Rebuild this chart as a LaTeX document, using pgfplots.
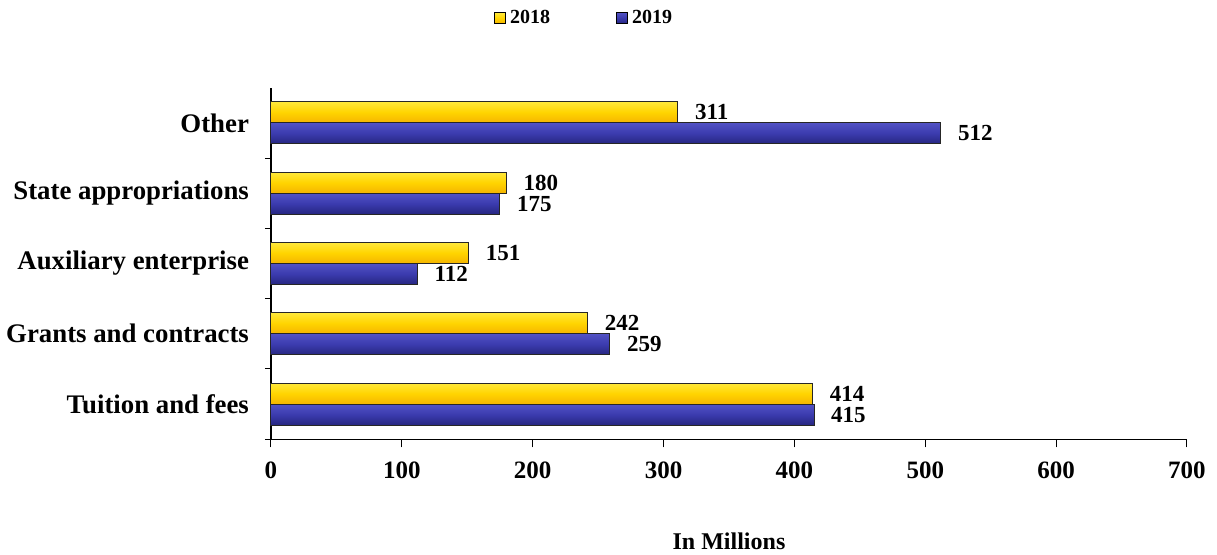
\documentclass[border=0pt]{standalone}
\usepackage{pgfplots}
\pgfplotsset{compat=1.18}
\usepackage{fontspec}
\setmainfont{Liberation Serif}
\definecolor{yTop}{HTML}{FFE83A}
\definecolor{yMid}{HTML}{FFD400}
\definecolor{yBot}{HTML}{F5B500}
\definecolor{bTop}{HTML}{5252C4}
\definecolor{bMid}{HTML}{3B3BAE}
\definecolor{bBot}{HTML}{262680}
\pgfplotsset{
  s18/.style={draw=black!85, line width=0.5pt, top color=yTop, bottom color=yBot, middle color=yMid, bar shift=5.25pt,
    legend image code/.code={\draw[draw=black, fill=yMid] (0pt,-2.75pt) rectangle (5.5pt,2.75pt);}},
  s19/.style={draw=black!85, line width=0.5pt, top color=bTop, bottom color=bBot, middle color=bMid, bar shift=-5.25pt,
    legend image code/.code={\draw[draw=black, fill=bMid] (0pt,-2.75pt) rectangle (5.5pt,2.75pt);}},
}
\begin{document}
\begin{tikzpicture}
\path[use as bounding box] (-135.5pt,-57.85pt) rectangle (473pt,219.65pt);
\begin{axis}[
  at={(0,0)}, anchor=south west, scale only axis,
  width=458pt, height=175.8pt,
  xbar, bar width=10.5pt,
  xmin=0, xmax=700, xtick={0,100,...,700},
  ymin=-0.5, ymax=4.5, ytick={0,...,4},
  yticklabels={Tuition and fees, Grants and contracts, Auxiliary enterprise, State appropriations, Other},
  minor ytick={-0.5,0.5,...,3.5},
  axis x line*=bottom, axis y line*=left,
  tick align=outside,
  major y tick style={draw=none},
  minor tick length=3pt,
  major tick length=4pt,
  every tick/.style={black, line width=0.5pt},
  axis line style={black, line width=0.6pt},
  /pgf/number format/assume math mode=true,
  xticklabel style={font=\bfseries\fontsize{12.5}{14}\selectfont, yshift=-4pt},
  yticklabel style={font=\bfseries\fontsize{13.4}{15}\selectfont, xshift=-3.5pt},
  nodes near coords,
  nodes near coords style={font=\bfseries\fontsize{11.5}{13}\selectfont, anchor=west, xshift=5pt},
  clip=false,
  xlabel={In Millions},
  every axis x label/.style={at={(rel axis cs:0.5,0)}, yshift=-51pt, anchor=center, font=\bfseries\fontsize{12}{14}\selectfont},
  legend style={at={(rel axis cs:0.343,1.198)}, anchor=center, draw=none, fill=none,
    legend columns=2, font=\bfseries\fontsize{10}{12}\selectfont,
    /tikz/every even column/.append style={column sep=31pt},
    inner sep=0pt},
]
% 2018
\addplot[s18] coordinates {(414,0)};
% 2019
\addplot[s19] coordinates {(415,0)};
\addplot[s18, forget plot] coordinates {(242,1)};
\addplot[s18, forget plot] coordinates {(151,2)};
\addplot[s18, forget plot] coordinates {(180,3)};
\addplot[s18, forget plot] coordinates {(311,4)};
\addplot[s19, forget plot] coordinates {(259,1)};
\addplot[s19, forget plot] coordinates {(112,2)};
\addplot[s19, forget plot] coordinates {(175,3)};
\addplot[s19, forget plot] coordinates {(512,4)};
\legend{2018,2019}
\end{axis}
\end{tikzpicture}
\end{document}
